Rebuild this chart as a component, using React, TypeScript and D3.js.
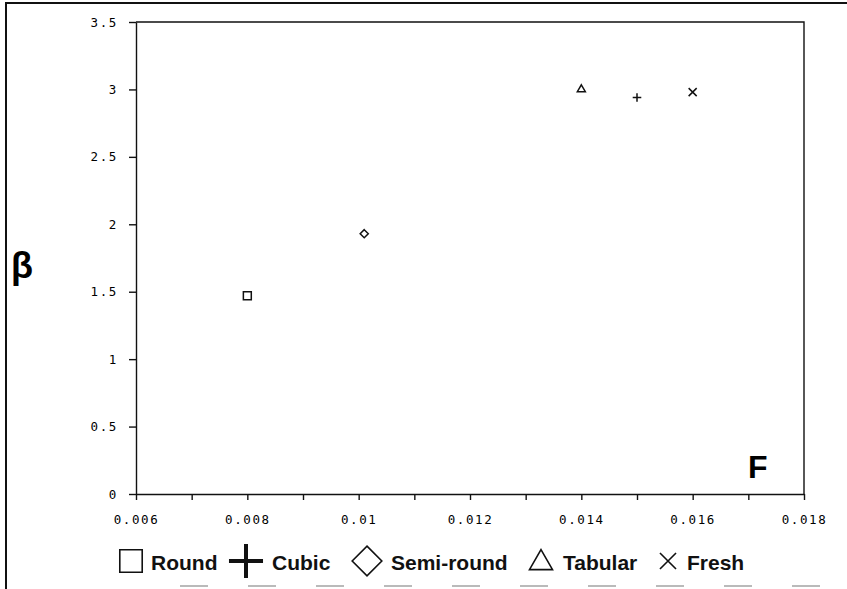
import React, { useRef, useEffect } from "react";
import * as d3 from "d3";

// crystal shapes, plotted as F (x) against beta (y)
const shapes = ["Round", "Cubic", "Semi-round", "Tabular", "Fresh"];
const fValues = [0.008, 0.015, 0.0101, 0.014, 0.016];
const betaValues = [1.47, 2.94, 1.93, 3.0, 2.98];

const xMajorTicks = [0.006, 0.008, 0.01, 0.012, 0.014, 0.016, 0.018];
const xMinorTicks = [0.007, 0.009, 0.011, 0.013, 0.015, 0.017];
const yTicks = [0, 0.5, 1, 1.5, 2, 2.5, 3, 3.5];

const W = 847;
const H = 589;

// stroke symbol for each shape
const plotSymbols = [d3.symbolSquare2, d3.symbolPlus, d3.symbolDiamond2, d3.symbolTriangle2, d3.symbolTimes];
const plotSizes = [80, 26, 42, 46, 44];
const legendSizes = [640, 380, 560, 380, 170];
const legendX = [131, 246, 367, 541, 668];
const legendTextX = [151, 272, 391, 563, 687];

const App = () => {
  const svgRef = useRef(null);

  useEffect(() => {
    const svg = d3.select(svgRef.current);
    svg.selectAll("*").remove();

    const x = d3.scaleLinear().domain([0.006, 0.018]).range([136, 804]);
    const y = d3.scaleLinear().domain([0, 3.5]).range([494, 22]);

    //outer frame
    svg.append("path")
      .attr("d", `M6,${H} L6,3 L${W},3`)
      .attr("fill", "none")
      .attr("stroke", "#111")
      .attr("stroke-width", 2);
    svg.append("line")
      .attr("x1", 180).attr("x2", W)
      .attr("y1", 586).attr("y2", 586)
      .attr("stroke", "#777")
      .attr("stroke-width", 1.2)
      .attr("stroke-dasharray", "28 40");

    //plot box (top + right)
    svg.append("path")
      .attr("d", `M${x(0.006)},${y(3.5)} L${x(0.018)},${y(3.5)} L${x(0.018)},${y(0)}`)
      .attr("fill", "none")
      .attr("stroke", "#111")
      .attr("stroke-width", 1.4);

    //x axis
    const axisX = d3.axisBottom(x)
      .tickValues(xMajorTicks)
      .tickSize(6)
      .tickSizeOuter(0)
      .tickPadding(15)
      .tickFormat(d => String(+d.toFixed(3)));
    const xg = svg.append("g")
      .attr("transform", `translate(0,${y(0)})`)
      .call(axisX);
    const axisXMinor = d3.axisBottom(x).tickValues(xMinorTicks).tickSize(6).tickSizeOuter(0).tickFormat(() => "");
    const xmg = svg.append("g")
      .attr("transform", `translate(0,${y(0)})`)
      .call(axisXMinor);
    xmg.select(".domain").remove();

    //y axis
    const axisY = d3.axisLeft(y)
      .tickValues(yTicks)
      .tickSize(7)
      .tickSizeOuter(0)
      .tickPadding(11)
      .tickFormat(d => String(d));
    const yg = svg.append("g")
      .attr("transform", `translate(${x(0.006)},0)`)
      .call(axisY);

    [xg, xmg, yg].forEach(g => {
      g.selectAll("path, line").attr("stroke", "#111").attr("stroke-width", 1.4);
      g.selectAll("text")
        .attr("fill", "#000")
        .style("font-family", "'DejaVu Sans Mono', monospace")
        .style("font-size", "12.5px")
        .style("letter-spacing", "1.6px");
    });

    //points
    svg.append("g")
      .selectAll("path")
      .data(shapes)
      .enter()
      .append("path")
      .attr("d", (_, i) => d3.symbol(plotSymbols[i], plotSizes[i])())
      .attr("transform", (_, i) => `translate(${x(fValues[i])},${y(betaValues[i])})`)
      .attr("fill", "none")
      .attr("stroke", "#111")
      .attr("stroke-width", 1.5);

    //axis titles
    svg.append("text")
      .attr("x", 11).attr("y", 278)
      .style("font-family", "'Liberation Sans', Arial, sans-serif")
      .style("font-weight", "bold")
      .style("font-size", "36px")
      .text("β");
    svg.append("text")
      .attr("x", 748).attr("y", 478)
      .style("font-family", "'Liberation Sans', Arial, sans-serif")
      .style("font-weight", "bold")
      .style("font-size", "32px")
      .text("F");

    //legend
    const lg = svg.append("g");
    lg.selectAll("path")
      .data(shapes)
      .enter()
      .append("path")
      .attr("d", (_, i) => d3.symbol(plotSymbols[i], legendSizes[i])())
      .attr("transform", (_, i) => `translate(${legendX[i]},${i === 3 ? 563 : 561})`)
      .attr("fill", "none")
      .attr("stroke", "#111")
      .attr("stroke-width", (_, i) => (i === 1 ? 4 : 1.6));
    lg.selectAll("text")
      .data(shapes)
      .enter()
      .append("text")
      .attr("x", (_, i) => legendTextX[i])
      .attr("y", 570)
      .attr("fill", "#111")
      .style("font-family", "'Liberation Sans', Arial, sans-serif")
      .style("font-weight", "bold")
      .style("font-size", "21px")
      .text(d => d);
  }, []);

  return (
    <svg
      ref={svgRef}
      width={W}
      height={H}
      style={{ position: "absolute", left: 0, top: 0, background: "#fff" }}
    />
  );
};

export default App;
